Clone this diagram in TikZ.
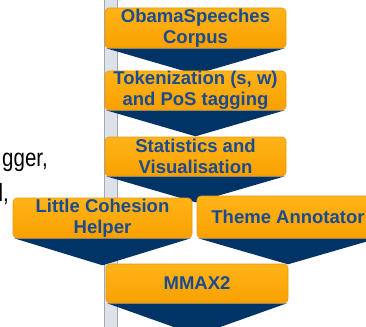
\documentclass[tikz,border=0pt]{standalone}
\usepackage{fontspec}
\setmainfont{Liberation Sans}
\usetikzlibrary{backgrounds,calc}
\definecolor{navy}{HTML}{003366}
\definecolor{boxtext}{HTML}{1B4B8F}
\definecolor{orangeA}{HTML}{FFB418}
\definecolor{orangeB}{HTML}{F9A000}
\definecolor{orangeEdge}{HTML}{E99A10}
\definecolor{barfill}{HTML}{DDE1E9}
\definecolor{baredge}{HTML}{A3A7AF}
\begin{document}
\begin{tikzpicture}[x=1pt,y=-1pt,
  stagebox/.style={rounded corners=4pt, top color=orangeA, bottom color=orangeB,
    draw=orangeEdge, line width=0.6pt, text=boxtext,
    font=\bfseries\fontsize{18.5}{21}\selectfont, align=center, inner sep=0pt},
  pointer/.style={fill=navy},
  sidetext/.style={font=\fontsize{25}{30}\selectfont, text=black, inner sep=0pt, anchor=base east}]
\useasboundingbox (0,0) rectangle (366,326);
\clip (0,0) rectangle (366,326);

\node[stagebox, minimum width=181pt, minimum height=40pt] (corpus) at (195.5,28) {ObamaSpeeches\\Corpus};
\node[stagebox, minimum width=181pt, minimum height=39pt] (token) at (195.5,90.5) {Tokenization (s, w)\\and PoS tagging};
\node[stagebox, minimum width=181pt, minimum height=39pt] (stats) at (195.5,156.5) {Statistics and\\Visualisation};
\node[stagebox, minimum width=179pt, minimum height=40pt] (lch) at (102.5,218) {Little Cohesion\\Helper};
\node[stagebox, minimum width=182pt, minimum height=42pt] (theme) at (288,217) {Theme Annotator};
\node[stagebox, minimum width=182pt, minimum height=39pt] (mmax) at (197,283.5) {MMAX2};

\node[sidetext] (t1) at (48,166) {\scalebox{0.82}[1]{gger,}};
\node[sidetext] (t2) at (9,201) {\scalebox{0.82}[1]{l,}};

\begin{pgfonlayer}{background}
  \draw[fill=barfill, draw=baredge, line width=0.8pt] (104.5,-2) rectangle (117,330);
  \foreach \b/\h in {corpus/26, token/26, stats/26, lch/27, theme/26, mmax/32} {
    \fill[pointer] ($(\b.south west)+(1.5,0)$) -- ($(\b.south east)+(-1.5,0)$)
      -- ($(\b.south)+(0,\h)$) -- cycle;
  }
\end{pgfonlayer}
\end{tikzpicture}
\end{document}
